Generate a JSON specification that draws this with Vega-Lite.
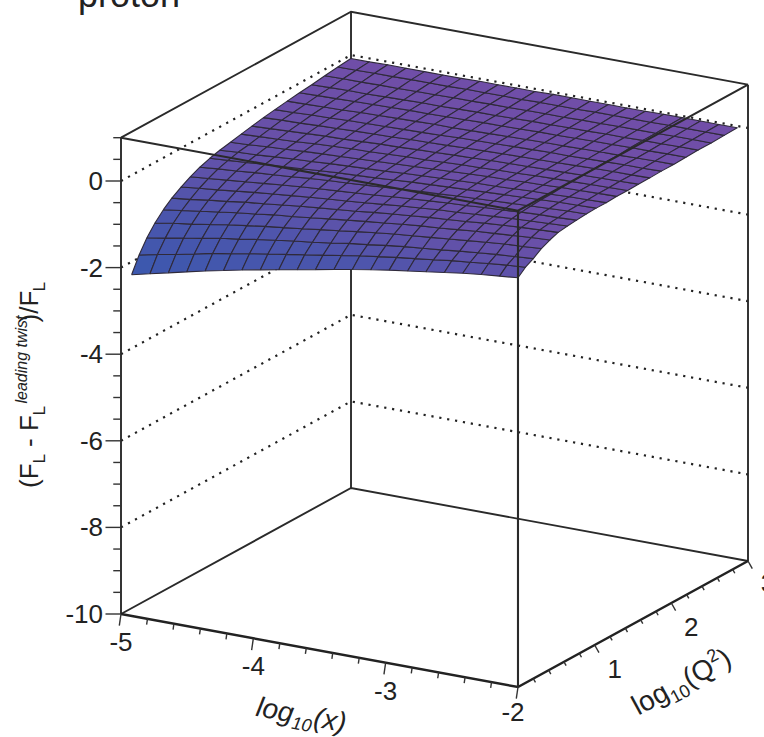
{"$schema":"https://vega.github.io/schema/vega-lite/v6.json","width":764,"height":737,"padding":0,"autosize":"none","background":"white","view":{"stroke":null},
"datasets":{"surface":[
{"i":0,"j":0,"z":-2.12},{"i":1,"j":0,"z":-2.02},{"i":2,"j":0,"z":-1.92},{"i":3,"j":0,"z":-1.82},{"i":4,"j":0,"z":-1.72},{"i":5,"j":0,"z":-1.63},{"i":6,"j":0,"z":-1.54},{"i":7,"j":0,"z":-1.46},{"i":8,"j":0,"z":-1.38},{"i":9,"j":0,"z":-1.3},{"i":10,"j":0,"z":-1.22},{"i":11,"j":0,"z":-1.14},{"i":12,"j":0,"z":-1.06},{"i":13,"j":0,"z":-0.99},{"i":14,"j":0,"z":-0.92},{"i":15,"j":0,"z":-0.86},{"i":16,"j":0,"z":-0.8},{"i":17,"j":0,"z":-0.74},{"i":18,"j":0,"z":-0.68},{"i":19,"j":0,"z":-0.63},{"i":20,"j":0,"z":-0.59},{"i":21,"j":0,"z":-0.55},
{"i":0,"j":1,"z":-1.76},{"i":1,"j":1,"z":-1.67},{"i":2,"j":1,"z":-1.59},{"i":3,"j":1,"z":-1.5},{"i":4,"j":1,"z":-1.41},{"i":5,"j":1,"z":-1.34},{"i":6,"j":1,"z":-1.26},{"i":7,"j":1,"z":-1.19},{"i":8,"j":1,"z":-1.12},{"i":9,"j":1,"z":-1.05},{"i":10,"j":1,"z":-0.98},{"i":11,"j":1,"z":-0.91},{"i":12,"j":1,"z":-0.84},{"i":13,"j":1,"z":-0.78},{"i":14,"j":1,"z":-0.72},{"i":15,"j":1,"z":-0.67},{"i":16,"j":1,"z":-0.62},{"i":17,"j":1,"z":-0.56},{"i":18,"j":1,"z":-0.52},{"i":19,"j":1,"z":-0.47},{"i":20,"j":1,"z":-0.43},{"i":21,"j":1,"z":-0.4},
{"i":0,"j":2,"z":-1.46},{"i":1,"j":2,"z":-1.39},{"i":2,"j":2,"z":-1.31},{"i":3,"j":2,"z":-1.24},{"i":4,"j":2,"z":-1.16},{"i":5,"j":2,"z":-1.1},{"i":6,"j":2,"z":-1.03},{"i":7,"j":2,"z":-0.97},{"i":8,"j":2,"z":-0.91},{"i":9,"j":2,"z":-0.86},{"i":10,"j":2,"z":-0.8},{"i":11,"j":2,"z":-0.73},{"i":12,"j":2,"z":-0.68},{"i":13,"j":2,"z":-0.62},{"i":14,"j":2,"z":-0.57},{"i":15,"j":2,"z":-0.53},{"i":16,"j":2,"z":-0.49},{"i":17,"j":2,"z":-0.44},{"i":18,"j":2,"z":-0.4},{"i":19,"j":2,"z":-0.36},{"i":20,"j":2,"z":-0.33},{"i":21,"j":2,"z":-0.3},
{"i":0,"j":3,"z":-1.22},{"i":1,"j":3,"z":-1.15},{"i":2,"j":3,"z":-1.09},{"i":3,"j":3,"z":-1.02},{"i":4,"j":3,"z":-0.95},{"i":5,"j":3,"z":-0.89},{"i":6,"j":3,"z":-0.83},{"i":7,"j":3,"z":-0.78},{"i":8,"j":3,"z":-0.73},{"i":9,"j":3,"z":-0.67},{"i":10,"j":3,"z":-0.62},{"i":11,"j":3,"z":-0.56},{"i":12,"j":3,"z":-0.51},{"i":13,"j":3,"z":-0.46},{"i":14,"j":3,"z":-0.42},{"i":15,"j":3,"z":-0.38},{"i":16,"j":3,"z":-0.34},{"i":17,"j":3,"z":-0.3},{"i":18,"j":3,"z":-0.26},{"i":19,"j":3,"z":-0.22},{"i":20,"j":3,"z":-0.2},{"i":21,"j":3,"z":-0.17},
{"i":0,"j":4,"z":-1.02},{"i":1,"j":4,"z":-0.96},{"i":2,"j":4,"z":-0.9},{"i":3,"j":4,"z":-0.84},{"i":4,"j":4,"z":-0.78},{"i":5,"j":4,"z":-0.73},{"i":6,"j":4,"z":-0.67},{"i":7,"j":4,"z":-0.63},{"i":8,"j":4,"z":-0.58},{"i":9,"j":4,"z":-0.53},{"i":10,"j":4,"z":-0.48},{"i":11,"j":4,"z":-0.43},{"i":12,"j":4,"z":-0.39},{"i":13,"j":4,"z":-0.34},{"i":14,"j":4,"z":-0.3},{"i":15,"j":4,"z":-0.27},{"i":16,"j":4,"z":-0.23},{"i":17,"j":4,"z":-0.19},{"i":18,"j":4,"z":-0.16},{"i":19,"j":4,"z":-0.13},{"i":20,"j":4,"z":-0.1},{"i":21,"j":4,"z":-0.08},
{"i":0,"j":5,"z":-0.86},{"i":1,"j":5,"z":-0.81},{"i":2,"j":5,"z":-0.75},{"i":3,"j":5,"z":-0.7},{"i":4,"j":5,"z":-0.64},{"i":5,"j":5,"z":-0.6},{"i":6,"j":5,"z":-0.55},{"i":7,"j":5,"z":-0.5},{"i":8,"j":5,"z":-0.46},{"i":9,"j":5,"z":-0.42},{"i":10,"j":5,"z":-0.38},{"i":11,"j":5,"z":-0.33},{"i":12,"j":5,"z":-0.29},{"i":13,"j":5,"z":-0.25},{"i":14,"j":5,"z":-0.21},{"i":15,"j":5,"z":-0.18},{"i":16,"j":5,"z":-0.15},{"i":17,"j":5,"z":-0.11},{"i":18,"j":5,"z":-0.08},{"i":19,"j":5,"z":-0.05},{"i":20,"j":5,"z":-0.03},{"i":21,"j":5,"z":-0.01},
{"i":0,"j":6,"z":-0.72},{"i":1,"j":6,"z":-0.67},{"i":2,"j":6,"z":-0.63},{"i":3,"j":6,"z":-0.58},{"i":4,"j":6,"z":-0.53},{"i":5,"j":6,"z":-0.49},{"i":6,"j":6,"z":-0.45},{"i":7,"j":6,"z":-0.41},{"i":8,"j":6,"z":-0.37},{"i":9,"j":6,"z":-0.34},{"i":10,"j":6,"z":-0.3},{"i":11,"j":6,"z":-0.26},{"i":12,"j":6,"z":-0.22},{"i":13,"j":6,"z":-0.19},{"i":14,"j":6,"z":-0.15},{"i":15,"j":6,"z":-0.13},{"i":16,"j":6,"z":-0.1},{"i":17,"j":6,"z":-0.07},{"i":18,"j":6,"z":-0.04},{"i":19,"j":6,"z":-0.02},{"i":20,"j":6,"z":0},{"i":21,"j":6,"z":0.02},
{"i":0,"j":7,"z":-0.6},{"i":1,"j":7,"z":-0.56},{"i":2,"j":7,"z":-0.52},{"i":3,"j":7,"z":-0.48},{"i":4,"j":7,"z":-0.44},{"i":5,"j":7,"z":-0.4},{"i":6,"j":7,"z":-0.36},{"i":7,"j":7,"z":-0.33},{"i":8,"j":7,"z":-0.3},{"i":9,"j":7,"z":-0.27},{"i":10,"j":7,"z":-0.24},{"i":11,"j":7,"z":-0.2},{"i":12,"j":7,"z":-0.17},{"i":13,"j":7,"z":-0.14},{"i":14,"j":7,"z":-0.11},{"i":15,"j":7,"z":-0.09},{"i":16,"j":7,"z":-0.06},{"i":17,"j":7,"z":-0.04},{"i":18,"j":7,"z":-0.01},{"i":19,"j":7,"z":0.01},{"i":20,"j":7,"z":0.02},{"i":21,"j":7,"z":0.04},
{"i":0,"j":8,"z":-0.5},{"i":1,"j":8,"z":-0.46},{"i":2,"j":8,"z":-0.43},{"i":3,"j":8,"z":-0.39},{"i":4,"j":8,"z":-0.36},{"i":5,"j":8,"z":-0.33},{"i":6,"j":8,"z":-0.29},{"i":7,"j":8,"z":-0.26},{"i":8,"j":8,"z":-0.24},{"i":9,"j":8,"z":-0.21},{"i":10,"j":8,"z":-0.18},{"i":11,"j":8,"z":-0.15},{"i":12,"j":8,"z":-0.12},{"i":13,"j":8,"z":-0.1},{"i":14,"j":8,"z":-0.07},{"i":15,"j":8,"z":-0.05},{"i":16,"j":8,"z":-0.03},{"i":17,"j":8,"z":-0.01},{"i":18,"j":8,"z":0.01},{"i":19,"j":8,"z":0.03},{"i":20,"j":8,"z":0.05},{"i":21,"j":8,"z":0.06},
{"i":0,"j":9,"z":-0.42},{"i":1,"j":9,"z":-0.39},{"i":2,"j":9,"z":-0.36},{"i":3,"j":9,"z":-0.33},{"i":4,"j":9,"z":-0.3},{"i":5,"j":9,"z":-0.27},{"i":6,"j":9,"z":-0.24},{"i":7,"j":9,"z":-0.21},{"i":8,"j":9,"z":-0.19},{"i":9,"j":9,"z":-0.17},{"i":10,"j":9,"z":-0.14},{"i":11,"j":9,"z":-0.11},{"i":12,"j":9,"z":-0.09},{"i":13,"j":9,"z":-0.07},{"i":14,"j":9,"z":-0.05},{"i":15,"j":9,"z":-0.03},{"i":16,"j":9,"z":-0.01},{"i":17,"j":9,"z":0.01},{"i":18,"j":9,"z":0.03},{"i":19,"j":9,"z":0.05},{"i":20,"j":9,"z":0.06},{"i":21,"j":9,"z":0.07},
{"i":0,"j":10,"z":-0.36},{"i":1,"j":10,"z":-0.33},{"i":2,"j":10,"z":-0.31},{"i":3,"j":10,"z":-0.28},{"i":4,"j":10,"z":-0.25},{"i":5,"j":10,"z":-0.23},{"i":6,"j":10,"z":-0.2},{"i":7,"j":10,"z":-0.18},{"i":8,"j":10,"z":-0.16},{"i":9,"j":10,"z":-0.14},{"i":10,"j":10,"z":-0.11},{"i":11,"j":10,"z":-0.09},{"i":12,"j":10,"z":-0.07},{"i":13,"j":10,"z":-0.05},{"i":14,"j":10,"z":-0.03},{"i":15,"j":10,"z":-0.02},{"i":16,"j":10,"z":0},{"i":17,"j":10,"z":0.02},{"i":18,"j":10,"z":0.03},{"i":19,"j":10,"z":0.05},{"i":20,"j":10,"z":0.06},{"i":21,"j":10,"z":0.07},
{"i":0,"j":11,"z":-0.31},{"i":1,"j":11,"z":-0.29},{"i":2,"j":11,"z":-0.26},{"i":3,"j":11,"z":-0.24},{"i":4,"j":11,"z":-0.21},{"i":5,"j":11,"z":-0.19},{"i":6,"j":11,"z":-0.17},{"i":7,"j":11,"z":-0.15},{"i":8,"j":11,"z":-0.13},{"i":9,"j":11,"z":-0.11},{"i":10,"j":11,"z":-0.09},{"i":11,"j":11,"z":-0.07},{"i":12,"j":11,"z":-0.05},{"i":13,"j":11,"z":-0.03},{"i":14,"j":11,"z":-0.01},{"i":15,"j":11,"z":0},{"i":16,"j":11,"z":0.02},{"i":17,"j":11,"z":0.03},{"i":18,"j":11,"z":0.05},{"i":19,"j":11,"z":0.06},{"i":20,"j":11,"z":0.07},{"i":21,"j":11,"z":0.08},
{"i":0,"j":12,"z":-0.26},{"i":1,"j":12,"z":-0.24},{"i":2,"j":12,"z":-0.22},{"i":3,"j":12,"z":-0.2},{"i":4,"j":12,"z":-0.17},{"i":5,"j":12,"z":-0.15},{"i":6,"j":12,"z":-0.13},{"i":7,"j":12,"z":-0.12},{"i":8,"j":12,"z":-0.1},{"i":9,"j":12,"z":-0.08},{"i":10,"j":12,"z":-0.07},{"i":11,"j":12,"z":-0.05},{"i":12,"j":12,"z":-0.03},{"i":13,"j":12,"z":-0.02},{"i":14,"j":12,"z":0},{"i":15,"j":12,"z":0.01},{"i":16,"j":12,"z":0.03},{"i":17,"j":12,"z":0.04},{"i":18,"j":12,"z":0.05},{"i":19,"j":12,"z":0.06},{"i":20,"j":12,"z":0.07},{"i":21,"j":12,"z":0.08},
{"i":0,"j":13,"z":-0.21},{"i":1,"j":13,"z":-0.19},{"i":2,"j":13,"z":-0.17},{"i":3,"j":13,"z":-0.15},{"i":4,"j":13,"z":-0.13},{"i":5,"j":13,"z":-0.12},{"i":6,"j":13,"z":-0.1},{"i":7,"j":13,"z":-0.08},{"i":8,"j":13,"z":-0.07},{"i":9,"j":13,"z":-0.05},{"i":10,"j":13,"z":-0.04},{"i":11,"j":13,"z":-0.02},{"i":12,"j":13,"z":-0.01},{"i":13,"j":13,"z":0.01},{"i":14,"j":13,"z":0.02},{"i":15,"j":13,"z":0.03},{"i":16,"j":13,"z":0.04},{"i":17,"j":13,"z":0.05},{"i":18,"j":13,"z":0.06},{"i":19,"j":13,"z":0.07},{"i":20,"j":13,"z":0.08},{"i":21,"j":13,"z":0.09},
{"i":0,"j":14,"z":-0.16},{"i":1,"j":14,"z":-0.14},{"i":2,"j":14,"z":-0.13},{"i":3,"j":14,"z":-0.11},{"i":4,"j":14,"z":-0.1},{"i":5,"j":14,"z":-0.08},{"i":6,"j":14,"z":-0.07},{"i":7,"j":14,"z":-0.06},{"i":8,"j":14,"z":-0.04},{"i":9,"j":14,"z":-0.03},{"i":10,"j":14,"z":-0.02},{"i":11,"j":14,"z":0},{"i":12,"j":14,"z":0.01},{"i":13,"j":14,"z":0.02},{"i":14,"j":14,"z":0.03},{"i":15,"j":14,"z":0.04},{"i":16,"j":14,"z":0.05},{"i":17,"j":14,"z":0.06},{"i":18,"j":14,"z":0.07},{"i":19,"j":14,"z":0.08},{"i":20,"j":14,"z":0.08},{"i":21,"j":14,"z":0.09},
{"i":0,"j":15,"z":-0.12},{"i":1,"j":15,"z":-0.11},{"i":2,"j":15,"z":-0.09},{"i":3,"j":15,"z":-0.08},{"i":4,"j":15,"z":-0.06},{"i":5,"j":15,"z":-0.05},{"i":6,"j":15,"z":-0.04},{"i":7,"j":15,"z":-0.03},{"i":8,"j":15,"z":-0.02},{"i":9,"j":15,"z":-0.01},{"i":10,"j":15,"z":0.01},{"i":11,"j":15,"z":0.02},{"i":12,"j":15,"z":0.03},{"i":13,"j":15,"z":0.04},{"i":14,"j":15,"z":0.05},{"i":15,"j":15,"z":0.06},{"i":16,"j":15,"z":0.06},{"i":17,"j":15,"z":0.07},{"i":18,"j":15,"z":0.08},{"i":19,"j":15,"z":0.09},{"i":20,"j":15,"z":0.09},{"i":21,"j":15,"z":0.1},
{"i":0,"j":16,"z":-0.08},{"i":1,"j":16,"z":-0.07},{"i":2,"j":16,"z":-0.06},{"i":3,"j":16,"z":-0.05},{"i":4,"j":16,"z":-0.03},{"i":5,"j":16,"z":-0.02},{"i":6,"j":16,"z":-0.01},{"i":7,"j":16,"z":0},{"i":8,"j":16,"z":0.01},{"i":9,"j":16,"z":0.01},{"i":10,"j":16,"z":0.02},{"i":11,"j":16,"z":0.03},{"i":12,"j":16,"z":0.04},{"i":13,"j":16,"z":0.05},{"i":14,"j":16,"z":0.06},{"i":15,"j":16,"z":0.06},{"i":16,"j":16,"z":0.07},{"i":17,"j":16,"z":0.08},{"i":18,"j":16,"z":0.08},{"i":19,"j":16,"z":0.09},{"i":20,"j":16,"z":0.1},{"i":21,"j":16,"z":0.1},
{"i":0,"j":17,"z":-0.04},{"i":1,"j":17,"z":-0.03},{"i":2,"j":17,"z":-0.02},{"i":3,"j":17,"z":-0.01},{"i":4,"j":17,"z":0},{"i":5,"j":17,"z":0.01},{"i":6,"j":17,"z":0.02},{"i":7,"j":17,"z":0.02},{"i":8,"j":17,"z":0.03},{"i":9,"j":17,"z":0.04},{"i":10,"j":17,"z":0.05},{"i":11,"j":17,"z":0.05},{"i":12,"j":17,"z":0.06},{"i":13,"j":17,"z":0.07},{"i":14,"j":17,"z":0.07},{"i":15,"j":17,"z":0.08},{"i":16,"j":17,"z":0.09},{"i":17,"j":17,"z":0.09},{"i":18,"j":17,"z":0.1},{"i":19,"j":17,"z":0.1},{"i":20,"j":17,"z":0.11},{"i":21,"j":17,"z":0.11},
{"i":0,"j":18,"z":-0.01},{"i":1,"j":18,"z":0},{"i":2,"j":18,"z":0.01},{"i":3,"j":18,"z":0.01},{"i":4,"j":18,"z":0.02},{"i":5,"j":18,"z":0.03},{"i":6,"j":18,"z":0.04},{"i":7,"j":18,"z":0.04},{"i":8,"j":18,"z":0.05},{"i":9,"j":18,"z":0.06},{"i":10,"j":18,"z":0.06},{"i":11,"j":18,"z":0.07},{"i":12,"j":18,"z":0.08},{"i":13,"j":18,"z":0.08},{"i":14,"j":18,"z":0.09},{"i":15,"j":18,"z":0.09},{"i":16,"j":18,"z":0.1},{"i":17,"j":18,"z":0.1},{"i":18,"j":18,"z":0.11},{"i":19,"j":18,"z":0.11},{"i":20,"j":18,"z":0.12},{"i":21,"j":18,"z":0.12},
{"i":0,"j":19,"z":0.03},{"i":1,"j":19,"z":0.04},{"i":2,"j":19,"z":0.04},{"i":3,"j":19,"z":0.05},{"i":4,"j":19,"z":0.05},{"i":5,"j":19,"z":0.06},{"i":6,"j":19,"z":0.06},{"i":7,"j":19,"z":0.07},{"i":8,"j":19,"z":0.07},{"i":9,"j":19,"z":0.08},{"i":10,"j":19,"z":0.08},{"i":11,"j":19,"z":0.09},{"i":12,"j":19,"z":0.09},{"i":13,"j":19,"z":0.09},{"i":14,"j":19,"z":0.1},{"i":15,"j":19,"z":0.1},{"i":16,"j":19,"z":0.11},{"i":17,"j":19,"z":0.11},{"i":18,"j":19,"z":0.11},{"i":19,"j":19,"z":0.12},{"i":20,"j":19,"z":0.12},{"i":21,"j":19,"z":0.12},
{"i":0,"j":20,"z":0.07},{"i":1,"j":20,"z":0.07},{"i":2,"j":20,"z":0.08},{"i":3,"j":20,"z":0.08},{"i":4,"j":20,"z":0.09},{"i":5,"j":20,"z":0.09},{"i":6,"j":20,"z":0.09},{"i":7,"j":20,"z":0.1},{"i":8,"j":20,"z":0.1},{"i":9,"j":20,"z":0.1},{"i":10,"j":20,"z":0.1},{"i":11,"j":20,"z":0.11},{"i":12,"j":20,"z":0.11},{"i":13,"j":20,"z":0.11},{"i":14,"j":20,"z":0.12},{"i":15,"j":20,"z":0.12},{"i":16,"j":20,"z":0.12},{"i":17,"j":20,"z":0.12},{"i":18,"j":20,"z":0.13},{"i":19,"j":20,"z":0.13},{"i":20,"j":20,"z":0.13},{"i":21,"j":20,"z":0.13},
{"i":0,"j":21,"z":0.1},{"i":1,"j":21,"z":0.1},{"i":2,"j":21,"z":0.11},{"i":3,"j":21,"z":0.11},{"i":4,"j":21,"z":0.11},{"i":5,"j":21,"z":0.11},{"i":6,"j":21,"z":0.11},{"i":7,"j":21,"z":0.12},{"i":8,"j":21,"z":0.12},{"i":9,"j":21,"z":0.12},{"i":10,"j":21,"z":0.12},{"i":11,"j":21,"z":0.13},{"i":12,"j":21,"z":0.13},{"i":13,"j":21,"z":0.13},{"i":14,"j":21,"z":0.13},{"i":15,"j":21,"z":0.13},{"i":16,"j":21,"z":0.13},{"i":17,"j":21,"z":0.14},{"i":18,"j":21,"z":0.14},{"i":19,"j":21,"z":0.14},{"i":20,"j":21,"z":0.14},{"i":21,"j":21,"z":0.14}
],
"guides":[
{"kind":"back","g":"a","o":0,"lx":-5,"q":0,"z":-10},{"kind":"back","g":"a","o":1,"lx":-5,"q":0,"z":1},
{"kind":"back","g":"b","o":0,"lx":-5,"q":0,"z":-10},{"kind":"back","g":"b","o":1,"lx":-5,"q":3,"z":-10},{"kind":"back","g":"b","o":2,"lx":-2,"q":3,"z":-10},
{"kind":"back","g":"c","o":0,"lx":-5,"q":3,"z":-10},{"kind":"back","g":"c","o":1,"lx":-5,"q":3,"z":1},
{"kind":"back","g":"d","o":0,"lx":-2,"q":3,"z":-10},{"kind":"back","g":"d","o":1,"lx":-2,"q":3,"z":1},
{"kind":"back","g":"e","o":0,"lx":-5,"q":0,"z":1},{"kind":"back","g":"e","o":1,"lx":-5,"q":3,"z":1},{"kind":"back","g":"e","o":2,"lx":-2,"q":3,"z":1},
{"kind":"axis","g":"f","o":0,"lx":-5,"q":0,"z":-10},{"kind":"axis","g":"f","o":1,"lx":-2,"q":0,"z":-10},{"kind":"axis","g":"f","o":2,"lx":-2,"q":3,"z":-10},
{"kind":"dot","g":"z0","o":0,"lx":-5,"q":0,"z":0},{"kind":"dot","g":"z0","o":1,"lx":-5,"q":3,"z":0},{"kind":"dot","g":"z0","o":2,"lx":-2,"q":3,"z":0},
{"kind":"dot","g":"z2","o":0,"lx":-5,"q":0,"z":-2},{"kind":"dot","g":"z2","o":1,"lx":-5,"q":3,"z":-2},{"kind":"dot","g":"z2","o":2,"lx":-2,"q":3,"z":-2},
{"kind":"dot","g":"z4","o":0,"lx":-5,"q":0,"z":-4},{"kind":"dot","g":"z4","o":1,"lx":-5,"q":3,"z":-4},{"kind":"dot","g":"z4","o":2,"lx":-2,"q":3,"z":-4},
{"kind":"dot","g":"z6","o":0,"lx":-5,"q":0,"z":-6},{"kind":"dot","g":"z6","o":1,"lx":-5,"q":3,"z":-6},{"kind":"dot","g":"z6","o":2,"lx":-2,"q":3,"z":-6},
{"kind":"dot","g":"z8","o":0,"lx":-5,"q":0,"z":-8},{"kind":"dot","g":"z8","o":1,"lx":-5,"q":3,"z":-8},{"kind":"dot","g":"z8","o":2,"lx":-2,"q":3,"z":-8},
{"kind":"front","g":"h","o":0,"lx":-5,"q":0,"z":1},{"kind":"front","g":"h","o":1,"lx":-2,"q":0,"z":1},{"kind":"front","g":"h","o":2,"lx":-2,"q":3,"z":1},
{"kind":"front","g":"i","o":0,"lx":-2,"q":0,"z":1},{"kind":"front","g":"i","o":1,"lx":-2,"q":0,"z":-10},
{"kind":"xtick","m":1,"lx":-5,"q":0,"z":-10},{"kind":"xtick","m":0,"lx":-4.8,"q":0,"z":-10},{"kind":"xtick","m":0,"lx":-4.6,"q":0,"z":-10},{"kind":"xtick","m":0,"lx":-4.4,"q":0,"z":-10},{"kind":"xtick","m":0,"lx":-4.2,"q":0,"z":-10},{"kind":"xtick","m":1,"lx":-4,"q":0,"z":-10},{"kind":"xtick","m":0,"lx":-3.8,"q":0,"z":-10},{"kind":"xtick","m":0,"lx":-3.6,"q":0,"z":-10},{"kind":"xtick","m":0,"lx":-3.4,"q":0,"z":-10},{"kind":"xtick","m":0,"lx":-3.2,"q":0,"z":-10},{"kind":"xtick","m":1,"lx":-3,"q":0,"z":-10},{"kind":"xtick","m":0,"lx":-2.8,"q":0,"z":-10},{"kind":"xtick","m":0,"lx":-2.6,"q":0,"z":-10},{"kind":"xtick","m":0,"lx":-2.4,"q":0,"z":-10},{"kind":"xtick","m":0,"lx":-2.2,"q":0,"z":-10},{"kind":"xtick","m":1,"lx":-2,"q":0,"z":-10},
{"kind":"qtick","m":0,"lx":-2,"q":0.2,"z":-10},{"kind":"qtick","m":0,"lx":-2,"q":0.4,"z":-10},{"kind":"qtick","m":0,"lx":-2,"q":0.6,"z":-10},{"kind":"qtick","m":0,"lx":-2,"q":0.8,"z":-10},{"kind":"qtick","m":1,"lx":-2,"q":1,"z":-10},{"kind":"qtick","m":0,"lx":-2,"q":1.2,"z":-10},{"kind":"qtick","m":0,"lx":-2,"q":1.4,"z":-10},{"kind":"qtick","m":0,"lx":-2,"q":1.6,"z":-10},{"kind":"qtick","m":0,"lx":-2,"q":1.8,"z":-10},{"kind":"qtick","m":1,"lx":-2,"q":2,"z":-10},{"kind":"qtick","m":0,"lx":-2,"q":2.2,"z":-10},{"kind":"qtick","m":0,"lx":-2,"q":2.4,"z":-10},{"kind":"qtick","m":0,"lx":-2,"q":2.6,"z":-10},{"kind":"qtick","m":0,"lx":-2,"q":2.8,"z":-10},{"kind":"qtick","m":1,"lx":-2,"q":3,"z":-10},
{"kind":"ztick","m":1,"lx":-5,"q":0,"z":-10},{"kind":"ztick","m":0,"lx":-5,"q":0,"z":-9.5},{"kind":"ztick","m":0,"lx":-5,"q":0,"z":-9},{"kind":"ztick","m":0,"lx":-5,"q":0,"z":-8.5},{"kind":"ztick","m":1,"lx":-5,"q":0,"z":-8},{"kind":"ztick","m":0,"lx":-5,"q":0,"z":-7.5},{"kind":"ztick","m":0,"lx":-5,"q":0,"z":-7},{"kind":"ztick","m":0,"lx":-5,"q":0,"z":-6.5},{"kind":"ztick","m":1,"lx":-5,"q":0,"z":-6},{"kind":"ztick","m":0,"lx":-5,"q":0,"z":-5.5},{"kind":"ztick","m":0,"lx":-5,"q":0,"z":-5},{"kind":"ztick","m":0,"lx":-5,"q":0,"z":-4.5},{"kind":"ztick","m":1,"lx":-5,"q":0,"z":-4},{"kind":"ztick","m":0,"lx":-5,"q":0,"z":-3.5},{"kind":"ztick","m":0,"lx":-5,"q":0,"z":-3},{"kind":"ztick","m":0,"lx":-5,"q":0,"z":-2.5},{"kind":"ztick","m":1,"lx":-5,"q":0,"z":-2},{"kind":"ztick","m":0,"lx":-5,"q":0,"z":-1.5},{"kind":"ztick","m":0,"lx":-5,"q":0,"z":-1},{"kind":"ztick","m":0,"lx":-5,"q":0,"z":-0.5},{"kind":"ztick","m":1,"lx":-5,"q":0,"z":0},{"kind":"ztick","m":0,"lx":-5,"q":0,"z":0.5},{"kind":"ztick","m":0,"lx":-5,"q":0,"z":1},
{"kind":"zlab","t":"0","lx":-5,"q":0,"z":0},{"kind":"zlab","t":"-2","lx":-5,"q":0,"z":-2},{"kind":"zlab","t":"-4","lx":-5,"q":0,"z":-4},{"kind":"zlab","t":"-6","lx":-5,"q":0,"z":-6},{"kind":"zlab","t":"-8","lx":-5,"q":0,"z":-8},{"kind":"zlab","t":"-10","lx":-5,"q":0,"z":-10},
{"kind":"xlab","t":"-5","lx":-5,"q":0,"z":-10},{"kind":"xlab","t":"-4","lx":-4,"q":0,"z":-10},{"kind":"xlab","t":"-3","lx":-3,"q":0,"z":-10},{"kind":"xlab2","t":"-2","lx":-2,"q":0,"z":-10},
{"kind":"qlab","t":"1","lx":-2,"q":1,"z":-10},{"kind":"qlab","t":"2","lx":-2,"q":2,"z":-10},{"kind":"qlab3","t":"3","lx":-2,"q":3,"z":-10},
{"kind":"title","t":"proton","lx":-5,"q":0,"z":1},
{"kind":"x1","t":"log","lx":-4,"q":0,"z":-10},{"kind":"x2","t":"10","lx":-4,"q":0,"z":-10},{"kind":"x3","t":"(x)","lx":-4,"q":0,"z":-10},
{"kind":"q1","t":"log","lx":-2,"q":2,"z":-10},{"kind":"q2","t":"10","lx":-2,"q":2,"z":-10},{"kind":"q3","t":"(Q","lx":-2,"q":2,"z":-10},{"kind":"q4","t":"2","lx":-2,"q":2,"z":-10},{"kind":"q5","t":")","lx":-2,"q":2,"z":-10},
{"kind":"y1","t":"(F","lx":-5,"q":0,"z":-5},{"kind":"y2","t":"L","lx":-5,"q":0,"z":-5},{"kind":"y3","t":"- F","lx":-5,"q":0,"z":-5},{"kind":"y4","t":"L","lx":-5,"q":0,"z":-5},{"kind":"y5","t":"leading twist","lx":-5,"q":0,"z":-5},{"kind":"y6","t":")/F","lx":-5,"q":0,"z":-5},{"kind":"y7","t":"L","lx":-5,"q":0,"z":-5}
]},
"data":{"name":"guides"},
"transform":[
{"calculate":"121+(datum.lx+5)*132.33+datum.q*76.67","as":"sx"},
{"calculate":"614+(datum.lx+5)*24.33-datum.q*42-(datum.z+10)*43.3","as":"sy"}
],
"encoding":{
"x":{"field":"sx","type":"quantitative","scale":{"domain":[0,764],"nice":false,"zero":false},"axis":null},
"y":{"field":"sy","type":"quantitative","scale":{"domain":[737,0],"nice":false,"zero":false},"axis":null}
},
"layer":[
{"transform":[{"filter":"datum.kind==='dot'"}],"mark":{"type":"line","stroke":"#222222","strokeWidth":2.2,"strokeDash":[2.2,5.8],"clip":false},"encoding":{"detail":{"field":"g"},"order":{"field":"o","type":"quantitative"}}},
{"transform":[{"filter":"datum.kind==='back'"}],"mark":{"type":"line","stroke":"#2a2a2a","strokeWidth":1.9},"encoding":{"detail":{"field":"g"},"order":{"field":"o","type":"quantitative"}}},
{"transform":[{"filter":"datum.kind==='axis'"}],"mark":{"type":"line","stroke":"#222222","strokeWidth":2.5},"encoding":{"detail":{"field":"g"},"order":{"field":"o","type":"quantitative"}}},
{"data":{"name":"surface"},"transform":[
{"calculate":"-4.92+datum.i*2.92/21","as":"lx"},
{"calculate":"[0,0.098,0.2,0.305,0.415,0.525,0.645,0.765,0.89,1.02,1.15,1.29,1.43,1.57,1.72,1.87,2.03,2.19,2.35,2.52,2.69,2.86][datum.j]","as":"q"},
{"calculate":"121+(datum.lx+5)*132.33+datum.q*76.67","as":"sx"},
{"calculate":"614+(datum.lx+5)*24.33-datum.q*42-(datum.z+10)*43.3","as":"sy"},
{"calculate":"[0,1,2,3,4]","as":"corner"},{"flatten":["corner"]},
{"calculate":"datum.corner==1||datum.corner==2?datum.i-1:datum.i","as":"ci"},
{"calculate":"datum.corner==2||datum.corner==3?datum.j-1:datum.j","as":"cj"},
{"filter":"datum.ci>=0&&datum.ci<21&&datum.cj>=0&&datum.cj<21"},
{"calculate":"datum.cj*100+datum.ci","as":"cell"},
{"joinaggregate":[{"op":"mean","field":"z","as":"zc"}],"groupby":["cell"]}
],
"mark":{"type":"line","stroke":"#2f2a3a","strokeWidth":1.1,"strokeJoin":"round"},
"encoding":{"detail":{"field":"cell"},"order":{"field":"corner","type":"quantitative"},"fill":{"field":"zc","type":"quantitative","legend":null,"scale":{"domain":[-2.1,-1,-0.2,0.14],"range":["#3a58ae","#4c55ac","#6850a8","#714ea8"]}}}},
{"transform":[{"filter":"datum.kind==='front'"}],"mark":{"type":"line","stroke":"#2a2a2a","strokeWidth":2.1},"encoding":{"detail":{"field":"g"},"order":{"field":"o","type":"quantitative"}}},
{"transform":[{"filter":"test(/tick/,datum.kind)"},
{"calculate":"datum.sx+(datum.kind==='xtick'?-1.7:datum.kind==='qtick'?4.3:-15.5)*(datum.m?1:0.5)","as":"ex"},
{"calculate":"datum.sy+(datum.kind==='xtick'?11.7:datum.kind==='qtick'?7.7:0)*(datum.m?1:0.5)","as":"ey"}],
"mark":{"type":"rule","stroke":"#333333","strokeWidth":1.4},"encoding":{"x2":{"field":"ex"},"y2":{"field":"ey"}}},
{"transform":[{"filter":"datum.kind==='zlab'"}],"mark":{"type":"text","font":"Liberation Sans","fontSize":26,"fill":"#222222","align":"right","baseline":"middle","dx":-18,"dy":1},"encoding":{"text":{"field":"t"}}},
{"transform":[{"filter":"datum.kind==='xlab'"}],"mark":{"type":"text","font":"Liberation Sans","fontSize":26,"fill":"#222222","align":"center","baseline":"middle","dx":0,"dy":29},"encoding":{"text":{"field":"t"}}},
{"transform":[{"filter":"datum.kind==='xlab2'"}],"mark":{"type":"text","font":"Liberation Sans","fontSize":26,"fill":"#222222","align":"center","baseline":"middle","dx":-5,"dy":26},"encoding":{"text":{"field":"t"}}},
{"transform":[{"filter":"datum.kind==='qlab'"}],"mark":{"type":"text","font":"Liberation Sans","fontSize":26,"fill":"#222222","align":"center","baseline":"middle","dx":20,"dy":25},"encoding":{"text":{"field":"t"}}},
{"transform":[{"filter":"datum.kind==='qlab3'"}],"mark":{"type":"text","font":"Liberation Sans","fontSize":26,"fill":"#222222","align":"center","baseline":"middle","dx":20,"dy":23},"encoding":{"text":{"field":"t"}}},
{"transform":[{"filter":"datum.kind==='title'"}],"mark":{"type":"text","font":"Liberation Sans","fontSize":36,"fill":"#222222","align":"left","baseline":"alphabetic","dx":-43,"dy":-131},"encoding":{"text":{"field":"t"}}},
{"transform":[{"filter":"datum.kind==='x1'"}],"mark":{"type":"text","font":"Liberation Sans","fontSize":28,"fontStyle":"italic","fill":"#222222","align":"left","baseline":"alphabetic","angle":10.4,"dx":15.7,"dy":75.8},"encoding":{"text":{"field":"t"}}},
{"transform":[{"filter":"datum.kind==='x2'"}],"mark":{"type":"text","font":"Liberation Sans","fontSize":18,"fontStyle":"italic","fill":"#222222","align":"left","baseline":"alphabetic","angle":10.4,"dx":53,"dy":82},"encoding":{"text":{"field":"t"}}},
{"transform":[{"filter":"datum.kind==='x3'"}],"mark":{"type":"text","font":"Liberation Sans","fontSize":28,"fontStyle":"italic","fill":"#222222","align":"left","baseline":"alphabetic","angle":10.4,"dx":74,"dy":75.8},"encoding":{"text":{"field":"t"}}},
{"transform":[{"filter":"datum.kind==='q1'"}],"mark":{"type":"text","font":"Liberation Sans","fontSize":28,"fill":"#222222","align":"left","baseline":"alphabetic","angle":-28.6,"dx":-83,"dy":83.3},"encoding":{"text":{"field":"t"}}},
{"transform":[{"filter":"datum.kind==='q2'"}],"mark":{"type":"text","font":"Liberation Sans","fontSize":18,"fill":"#222222","align":"left","baseline":"alphabetic","angle":-28.6,"dx":-45.5,"dy":90},"encoding":{"text":{"field":"t"}}},
{"transform":[{"filter":"datum.kind==='q3'"}],"mark":{"type":"text","font":"Liberation Sans","fontSize":28,"fill":"#222222","align":"left","baseline":"alphabetic","angle":-28.6,"dx":-25,"dy":83.3},"encoding":{"text":{"field":"t"}}},
{"transform":[{"filter":"datum.kind==='q4'"}],"mark":{"type":"text","font":"Liberation Sans","fontSize":18,"fill":"#222222","align":"left","baseline":"alphabetic","angle":-28.6,"dx":6,"dy":72},"encoding":{"text":{"field":"t"}}},
{"transform":[{"filter":"datum.kind==='q5'"}],"mark":{"type":"text","font":"Liberation Sans","fontSize":28,"fill":"#222222","align":"left","baseline":"alphabetic","angle":-28.6,"dx":16,"dy":83.3},"encoding":{"text":{"field":"t"}}},
{"transform":[{"filter":"datum.kind==='y1'"}],"mark":{"type":"text","font":"Liberation Sans","fontSize":26,"fill":"#222222","align":"left","baseline":"alphabetic","angle":-90,"dx":-90.5,"dy":-83},"encoding":{"text":{"field":"t"}}},
{"transform":[{"filter":"datum.kind==='y2'"}],"mark":{"type":"text","font":"Liberation Sans","fontSize":17,"fill":"#222222","align":"left","baseline":"alphabetic","angle":-90,"dx":-66,"dy":-76},"encoding":{"text":{"field":"t"}}},
{"transform":[{"filter":"datum.kind==='y3'"}],"mark":{"type":"text","font":"Liberation Sans","fontSize":26,"fill":"#222222","align":"left","baseline":"alphabetic","angle":-90,"dx":-49.5,"dy":-83},"encoding":{"text":{"field":"t"}}},
{"transform":[{"filter":"datum.kind==='y4'"}],"mark":{"type":"text","font":"Liberation Sans","fontSize":17,"fill":"#222222","align":"left","baseline":"alphabetic","angle":-90,"dx":-18,"dy":-76},"encoding":{"text":{"field":"t"}}},
{"transform":[{"filter":"datum.kind==='y5'"}],"mark":{"type":"text","font":"Liberation Sans","fontSize":16,"fontStyle":"italic","fill":"#222222","align":"left","baseline":"alphabetic","angle":-90,"dx":-6,"dy":-94},"encoding":{"text":{"field":"t"}}},
{"transform":[{"filter":"datum.kind==='y6'"}],"mark":{"type":"text","font":"Liberation Sans","fontSize":26,"fill":"#222222","align":"left","baseline":"alphabetic","angle":-90,"dx":75,"dy":-83},"encoding":{"text":{"field":"t"}}},
{"transform":[{"filter":"datum.kind==='y7'"}],"mark":{"type":"text","font":"Liberation Sans","fontSize":17,"fill":"#222222","align":"left","baseline":"alphabetic","angle":-90,"dx":106,"dy":-76},"encoding":{"text":{"field":"t"}}}
]}
